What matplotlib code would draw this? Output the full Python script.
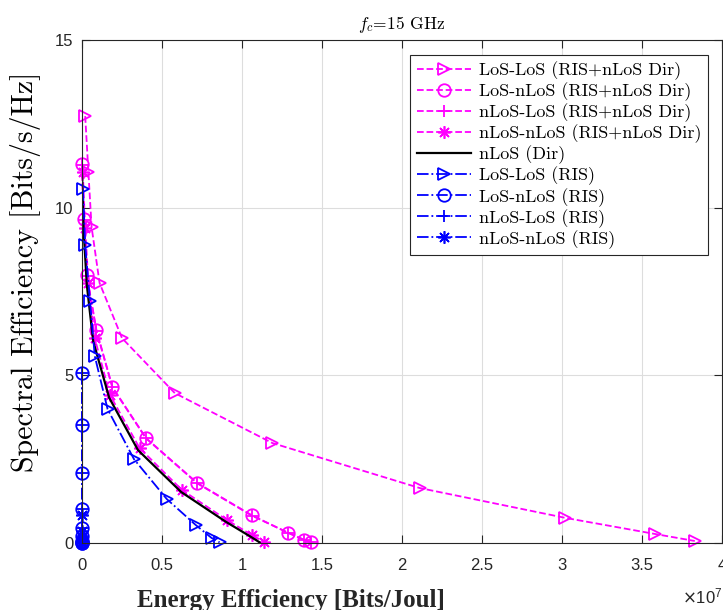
import numpy as np
import matplotlib
matplotlib.use("Agg")
import matplotlib.pyplot as plt

# energy efficiency [Bits/Joul] and spectral efficiency [Bits/s/Hz]
ee_ll_both = np.array([0.02, 0.04, 0.06, 0.11, 0.25, 0.58, 1.19, 2.11, 3.02, 3.58, 3.83]) * 1e7
se_ll_both = [12.73, 11.06, 9.42, 7.75, 6.11, 4.47, 2.98, 1.64, 0.75, 0.27, 0.06]

ee_ln_both = np.array([0.0, 0.01, 0.03, 0.09, 0.19, 0.40, 0.72, 1.06, 1.29, 1.39, 1.43]) * 1e7
se_ln_both = [11.30, 9.66, 7.99, 6.35, 4.65, 3.13, 1.79, 0.83, 0.30, 0.09, 0.02]

ee_nl_both = np.array([0.0, 0.01, 0.03, 0.09, 0.19, 0.40, 0.72, 1.06, 1.29, 1.39, 1.43]) * 1e7
se_nl_both = [11.28, 9.64, 7.97, 6.33, 4.64, 3.12, 1.78, 0.82, 0.30, 0.09, 0.02]

ee_nn_both = np.array([0.005, 0.02, 0.04, 0.08, 0.175, 0.36, 0.625, 0.905, 1.06, 1.14]) * 1e7
se_nn_both = [11.05, 9.40, 7.75, 6.10, 4.41, 2.83, 1.58, 0.69, 0.24, 0.03]

ee_dir = np.array([0.0, 0.01, 0.03, 0.07, 0.17, 0.35, 0.62, 0.90, 1.05, 1.11]) * 1e7
se_dir = [11.0, 9.35, 7.70, 6.02, 4.33, 2.77, 1.52, 0.63, 0.20, 0.02]

ee_ll_ris = np.array([0.006, 0.02, 0.05, 0.08, 0.16, 0.325, 0.53, 0.71, 0.81, 0.86]) * 1e7
se_ll_ris = [10.55, 8.88, 7.21, 5.57, 3.99, 2.50, 1.31, 0.54, 0.15, 0.02]

ee_ln_ris = np.array([0.001, 0.001, 0.001, 0.001, 0.001, 0.001, 0.001, 0.001, 0.001, 0.001]) * 1e7
se_ln_ris = [5.07, 3.52, 2.09, 1.01, 0.45, 0.20, 0.07, 0.02, 0.005, 0.001]

ee_nl_ris = ee_ln_ris.copy()
se_nl_ris = [5.06, 3.51, 2.08, 1.00, 0.44, 0.19, 0.07, 0.02, 0.005, 0.001]

ee_nn_ris = np.array([0.0, 0.0, 0.0, 0.0, 0.0, 0.0]) * 1e7
se_nn_ris = [0.83, 0.35, 0.12, 0.04, 0.01, 0.003]

xticks = np.arange(0, 4.01, 0.5) * 1e7
xticklabels = ['0', '0.5', '1', '1.5', '2', '2.5', '3', '3.5', '4']
yticks = [0, 5, 10, 15]

plt.rcParams['font.family'] = ['Liberation Sans', 'DejaVu Sans']
plt.rcParams['axes.unicode_minus'] = False

fig = plt.figure(figsize=(7.23, 6.10), dpi=100)
ax = fig.add_axes([82/723, 67/610, 640/723, 503/610])

mag = '#ff00ff'
blu = '#0000ff'
ast = (8, 2, 0)   # matlab style asterisk
ms = 9
lw = 1.3

ax.plot(ee_ll_both, se_ll_both, '--', color=mag, lw=lw, marker='>', ms=ms, mfc='none', mew=1.3,
        label='LoS-LoS (RIS+nLoS Dir)', clip_on=False)
ax.plot(ee_ln_both, se_ln_both, '--', color=mag, lw=lw, marker='o', ms=ms, mfc='none', mew=1.3,
        label='LoS-nLoS (RIS+nLoS Dir)', clip_on=False)
ax.plot(ee_nl_both, se_nl_both, '--', color=mag, lw=lw, marker='+', ms=ms, mew=1.3,
        label='nLoS-LoS (RIS+nLoS Dir)', clip_on=False)
ax.plot(ee_nn_both, se_nn_both, '--', color=mag, lw=lw, marker=ast, ms=ms, mew=1.2,
        label='nLoS-nLoS (RIS+nLoS Dir)', clip_on=False)
ax.plot(ee_dir, se_dir, '-', color='k', lw=1.6, label='nLoS (Dir)')
ax.plot(ee_ll_ris, se_ll_ris, '-.', color=blu, lw=lw, marker='>', ms=ms, mfc='none', mew=1.3,
        label='LoS-LoS (RIS)', clip_on=False)
ax.plot(ee_ln_ris, se_ln_ris, '-.', color=blu, lw=lw, marker='o', ms=ms, mfc='none', mew=1.3,
        label='LoS-nLoS (RIS)', clip_on=False)
ax.plot(ee_nl_ris, se_nl_ris, '-.', color=blu, lw=lw, marker='+', ms=ms, mew=1.3,
        label='nLoS-LoS (RIS)', clip_on=False)
ax.plot(ee_nn_ris, se_nn_ris, '-.', color=blu, lw=lw, marker=ast, ms=ms, mew=1.2,
        label='nLoS-nLoS (RIS)', clip_on=False)

ax.set_xlim(0, 4e7)
ax.set_ylim(0, 15)
ax.set_xticks(xticks, labels=xticklabels)
ax.set_yticks(yticks)
fig.text(1.0, 1 - 603/610, r'$\times\mathregular{10^{7}}$', ha='right', va='baseline', fontsize=12,
         color='#262626')

ax.grid(True, color='#dddddd', lw=0.8)
ax.set_axisbelow(True)
ax.tick_params(direction='in', length=6, width=0.8, top=True, right=True, labelsize=12, colors='#262626')
ax.tick_params(axis='x', pad=11)
ax.tick_params(axis='y', pad=6)
for s in ax.spines.values():
    s.set_linewidth(0.8)
    s.set_color('#262626')

ax.set_title('$f_c$=15 GHz', fontsize=12.5, family='cmr10', math_fontfamily='cm', pad=8)
ax.set_xlabel('Energy Efficiency [Bits/Joul]', fontsize=18, family='Liberation Serif', fontweight='bold',
              color='#262626', va='baseline')
ax.xaxis.set_label_coords(0.327, -0.127)
ax.set_ylabel('Spectral Efficiency [Bits/s/Hz]', fontsize=21.5, family='cmr10')
ax.yaxis.set_label_coords(-0.064, 0.54)

leg = ax.legend(loc='upper right', bbox_to_anchor=(0.978, 0.970), borderaxespad=0,
                prop={'family': 'cmr10', 'size': 13}, fancybox=False, framealpha=1,
                edgecolor='#262626', handlelength=3.0, borderpad=0.35,
                labelspacing=0.13, handletextpad=0.45)
leg.get_frame().set_linewidth(0.8)

fig.savefig('out.png', dpi=100)
